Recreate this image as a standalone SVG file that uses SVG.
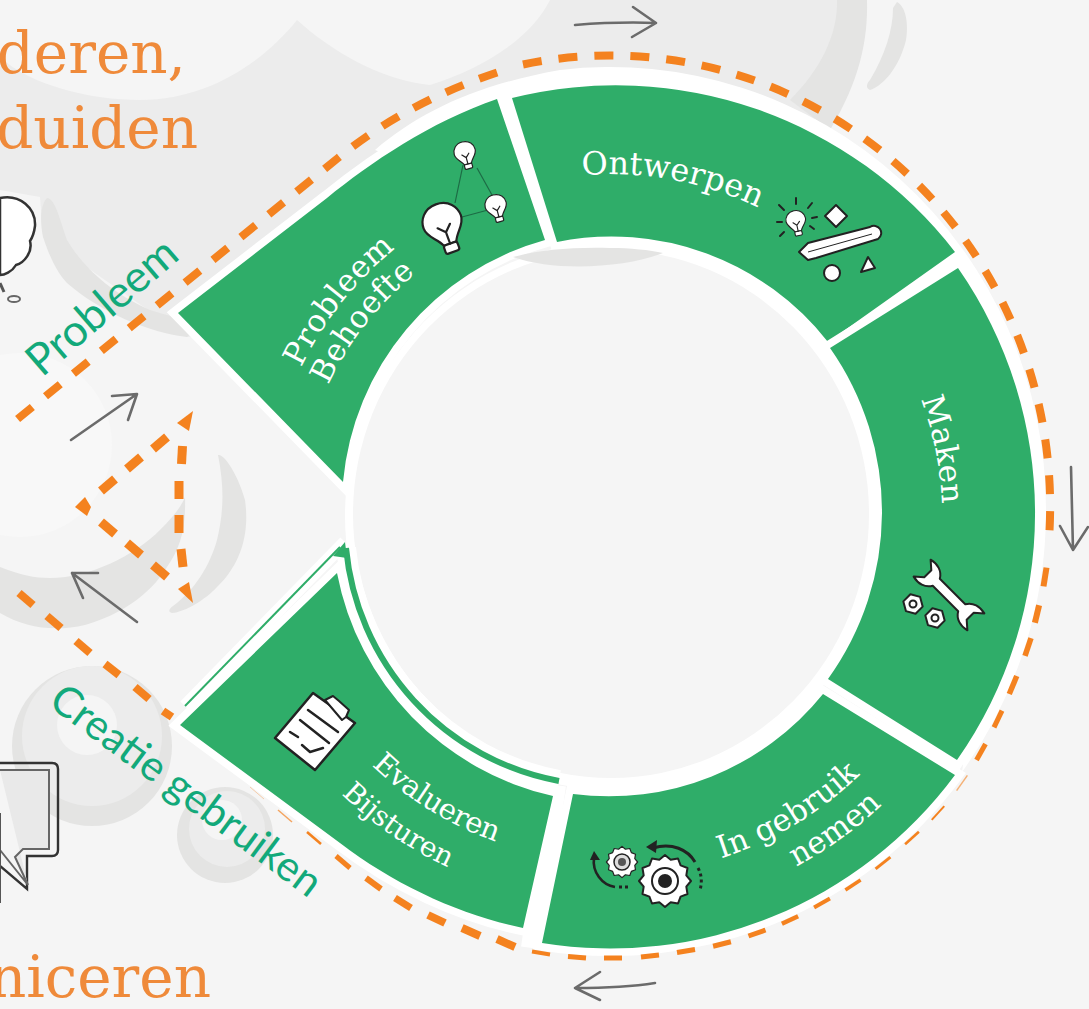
<svg xmlns="http://www.w3.org/2000/svg" xmlns:xlink="http://www.w3.org/1999/xlink" width="1089" height="1009" viewBox="0 0 1089 1009">
<style>
.seg{fill:#2fad69;stroke:#fff;stroke-width:15;stroke-linejoin:miter;stroke-miterlimit:12;paint-order:stroke}
.lbl{font-family:"DejaVu Serif","Liberation Serif",serif;fill:#fff;font-size:31px}
.org{font-family:"DejaVu Serif","Liberation Serif",serif;fill:#ef8a3a;font-size:58px}
.grn{font-family:"Lato","Open Sans",sans-serif;fill:#12a97a;font-weight:400}
.dash{fill:none;stroke:#f4821f;stroke-width:8;stroke-dasharray:19 17}
.d{stroke:#f4821f;fill:none}
.arr{fill:none;stroke:#6b6b6b;stroke-width:2.6;stroke-linecap:round;stroke-linejoin:round}
.ic{fill:#fff;stroke:#222;stroke-width:2;stroke-linejoin:round;stroke-linecap:round}
.il{fill:none;stroke:#222;stroke-width:2;stroke-linecap:round;stroke-linejoin:round}
.b1{fill:#e4e4e3}.b2{fill:#ececec}.b3{fill:#f5f5f5}
</style>
<defs>
<g id="bulb"><path class="ic" d="M0,-19C-12,-19 -18,-10 -18,-2C-18,7 -9,11 -6,19L6,19C9,11 18,7 18,-2C18,-10 12,-19 0,-19Z"/><rect class="ic" x="-6.5" y="19" width="13" height="8" rx="2"/><path class="il" d="M-6,2L0,8L6,2M0,8V19"/></g>
<polygon id="gear" points="26,0 21.3,5.7 22.5,13 15.6,15.6 13,22.5 5.7,21.3 0,26 -5.7,21.3 -13,22.5 -15.6,15.6 -22.5,13 -21.3,5.7 -26,0 -21.3,-5.7 -22.5,-13 -15.6,-15.6 -13,-22.5 -5.7,-21.3 0,-26 5.7,-21.3 13,-22.5 15.6,-15.6 22.5,-13 21.3,-5.7"/>
<polygon id="nut" points="10,0 5,8.7 -5,8.7 -10,0 -5,-8.7 5,-8.7"/>
<path id="tOnt" d="M574,176A342,342 0 0 1 872,296"/>
<path id="tMak" d="M911,376A332,332 0 0 1 937,574"/>
<path id="tPro" d="M288,399A343,343 0 0 1 550,178"/>
<path id="tBeh" d="M318,410A311,311 0 0 1 556,210"/>
<path id="tGeb" d="M672.5,870.5A360,360 0 0 0 948,639"/>
<path id="tNem" d="M746,889A397,397 0 0 0 993,619"/>
<path id="tEva" d="M345.7,737.8A345,345 0 0 0 580,859.7"/>
<path id="tBij" d="M314,765A387,387 0 0 0 576,901.5"/>
</defs>
<rect width="1089" height="1009" fill="#f5f5f5"/>
<g id="background">
<path class="b2" d="M0,57C30,85 90,100 140,100C210,100 265,60 297,20C330,50 380,80 430,85C480,70 530,40 550,0L867,0L840,110L600,200L300,330L187,337L43,237L40,197L0,190Z"/>
<path class="b1" d="M837,0L867,0C868,40 860,80 830,130L790,100C820,70 838,35 837,0Z"/>
<path class="b1" d="M897,2C908,8 908,30 906,40C900,65 885,85 870,90C865,88 867,83 870,80C885,55 893,30 893,8Z"/>
<path class="b1" d="M47,198C55,198 60,220 67,240C80,262 105,290 150,310C170,316 185,320 200,325L187,337C150,333 100,312 67,283C55,270 48,252 43,237C40,222 40,205 47,198Z"/>
<circle cx="20" cy="445" r="92" fill="#f8f8f8"/>
<path class="b1" d="M0,567C20,575 35,578 50,578C90,578 135,555 160,530C175,515 182,505 185,497C186,530 180,548 167,567C150,595 120,615 85,625C55,632 25,628 0,613Z"/>
<path class="b1" d="M218,455C225,453 240,480 245,500C250,535 240,565 217,587C205,600 185,612 172,613C167,612 170,608 173,606C195,590 210,565 217,540C223,515 225,490 218,455Z"/>
<circle cx="92" cy="746" r="80" class="b1"/>
<circle cx="92" cy="736" r="70" class="b2"/>
<circle cx="87" cy="725" r="30" class="b3"/>
<circle cx="225" cy="835" r="48" class="b1"/>
<circle cx="227" cy="829" r="38" class="b2"/>
<circle cx="222" cy="820" r="20" class="b3"/>
<path d="M375,150C420,112 475,85 560,70A436,442 0 0 1 1046,510A436,442 0 0 1 962,772L1000,510L500,200Z" fill="#fff"/>
<path d="M555,785L532,948" stroke="#fff" stroke-width="22"/>
<ellipse cx="613" cy="516" rx="268" ry="274" fill="#fff"/>
<ellipse cx="611" cy="514" rx="258" ry="264" fill="#f5f5f5"/>
<path d="M0,198C20,194 36,208 35,226C34,234 32,238 30,241C33,252 24,263 16,265C12,272 4,275 0,275Z" fill="#fff" stroke="#333" stroke-width="2.5"/>
<path d="M0,283L4,292" fill="none" stroke="#555" stroke-width="3"/>
<ellipse cx="14" cy="299" rx="6" ry="3" fill="#f5f5f5" stroke="#666" stroke-width="2"/>
<path d="M0,763H52Q58,763 58,769V850Q58,856 52,856H27V889L0,866" fill="none" stroke="#333" stroke-width="2.4"/>
<path d="M0,770H49V849H23L15,857L28,885M0,850L28,885" fill="#e9e9e9" stroke="#666" stroke-width="2"/>
<path d="M0,813V903" stroke="#555" stroke-width="2"/>
<text class="org" x="186" y="73" text-anchor="end">deren,</text>
<text class="org" x="198" y="148" text-anchor="end">duiden</text>
<text class="org" x="211" y="997" text-anchor="end">niceren</text>
</g>
<g id="probleem">
<path class="seg" d="M178,313L327,198C370,163 430,122 497,99L545,240A277,277 0 0 0 343,482Z"/>
<text class="lbl" letter-spacing=".4"><textPath xlink:href="#tPro" href="#tPro" startOffset="34">Probleem</textPath></text>
<text class="lbl" letter-spacing=".3"><textPath xlink:href="#tBeh" href="#tBeh" startOffset="27">Behoefte</textPath></text>
<path d="M463,165L455,203M477,168L492,195M462,217L488,210" stroke="#1d6b45" stroke-width="1.2" fill="none"/>
<use href="#bulb" transform="translate(443,224) rotate(-20) scale(1.1)"/>
<use href="#bulb" transform="translate(465,153) rotate(-15) scale(.6)"/>
<use href="#bulb" transform="translate(496,206) rotate(-15) scale(.6)"/>
</g>
<g id="ontwerpen">
<path class="seg" d="M512,98A429,429 0 0 1 955,252L828,342A275,275 0 0 0 557,242Z"/>
<text class="lbl" style="font-size:32px"><textPath xlink:href="#tOnt" href="#tOnt" startOffset="8">Ontwerpen</textPath></text>
<use href="#bulb" transform="translate(796,221) rotate(-12) scale(.55)"/>
<path class="il" d="M784,210L779,205M796,204V198M808,208L812,203M782,222H777M812,218L817,217M784,232L780,236M810,226L814,229"/>
<path class="ic" d="M836,205L847,216L836,227L825,216Z"/>
<path class="ic" d="M799,252L808,243L870,227A7,7 0 0 1 878,239L816,258L808,260Z"/>
<path d="M808,252L872,234" stroke="#222" stroke-width="1" fill="none"/>
<circle class="ic" cx="832" cy="273" r="8"/>
<path class="ic" d="M868,257L861,272L875,268Z"/>
</g>
<g id="maken">
<path class="seg" d="M958,268A429,429 0 0 1 957,760L828,679A285,285 0 0 0 830,348Z"/>
<text class="lbl"><textPath xlink:href="#tMak" href="#tMak" startOffset="25">Maken</textPath></text>
<path class="ic" transform="translate(949,595) rotate(45)" d="M-18,-5H18C22,-12 30,-14 38,-12L30,-5V5L38,12C30,14 22,12 18,5H-18C-22,12 -30,14 -38,12L-30,5V-5L-38,-12C-30,-14 -22,-12 -18,-5Z"/>
<use href="#nut" class="ic" transform="translate(913,604) rotate(15)"/>
<circle class="ic" cx="913" cy="604" r="3.5"/>
<use href="#nut" class="ic" transform="translate(935,618) rotate(15)"/>
<circle class="ic" cx="935" cy="618" r="3.5"/>
</g>
<g id="ingebruik">
<path class="seg" d="M955,775A429,429 0 0 1 542,943L573,794A275,275 0 0 0 823,694Z"/>
<text class="lbl"><textPath xlink:href="#tGeb" href="#tGeb" startOffset="50">In gebruik</textPath></text>
<text class="lbl"><textPath xlink:href="#tNem" href="#tNem" startOffset="55">nemen</textPath></text>
<use href="#gear" class="ic" transform="translate(665,881)"/>
<circle cx="665" cy="881" r="13" fill="#fff" stroke="#222" stroke-width="2"/>
<circle cx="665" cy="881" r="7" fill="#222"/>
<use href="#gear" class="ic" transform="translate(622,862) scale(.6)"/>
<circle cx="622" cy="862" r="8" fill="#ddd" stroke="#222" stroke-width="1.5"/>
<circle cx="622" cy="862" r="4" fill="#555"/>
<path d="M653,848C672,842 688,850 695,862" fill="none" stroke="#222" stroke-width="3"/>
<path d="M646,847L657,840L656,853Z" fill="#222"/>
<path d="M698,868C702,875 702,883 700,890" fill="none" stroke="#222" stroke-width="3" stroke-dasharray="3 3"/>
<path d="M594,858C592,872 602,885 615,887" fill="none" stroke="#222" stroke-width="2.6"/>
<path d="M594,851L590,860L600,860Z" fill="#222"/>
<path d="M619,887H630" stroke="#222" stroke-width="3" stroke-dasharray="3 3"/>
</g>
<g id="evalueren">
<path d="M185,706L345,542" stroke="#fff" stroke-width="13" fill="none"/>
<path d="M346,548A262,262 0 0 0 559,780" stroke="#fff" stroke-width="20" fill="none"/>
<path d="M185,706L340,547" stroke="#2fad69" stroke-width="2" fill="none"/>
<path d="M345,542L347,558L333,556Z" fill="#2fad69"/>
<path d="M346,548A262,262 0 0 0 559,781" stroke="#2fad69" stroke-width="6" fill="none"/>
<path class="seg" d="M180,725L337,573A283,283 0 0 0 553,796L523,928C460,915 395,885 340,843Z"/>
<text class="lbl" style="font-size:29px" letter-spacing="-.4"><textPath xlink:href="#tEva" href="#tEva" startOffset="38">Evalueren</textPath></text>
<text class="lbl" style="font-size:28px"><textPath xlink:href="#tBij" href="#tBij" startOffset="40">Bijsturen</textPath></text>
<path class="ic" d="M313,693L355,723L315,770L275,738Z" style="stroke-width:2.5"/>
<path class="ic" d="M325,700L333,696L339,701L349,710L346,717L342,720Z"/>
<path class="il" style="stroke-width:2.5" d="M308,710L338,732M300,720L329,743M290,732L298,737M302,745L310,752L323,748"/>
</g>
<path id="shade" class="b1" d="M513,257C540,250 570,247 610,248C630,248 650,250 663,253C625,268 555,272 513,257Z"/>
<g id="connectors">
<path class="dash" d="M17.6,419L338,158C385,120 440,90 511,68"/>
<path class="dash" d="M523,64.500A440,451 0 0 1 1049,539"/>
<g class="d" stroke-width="6">
<path d="M1046.5,567.6L1043.5,586.4"/><path d="M1039.1,605.2L1034.9,622.8"/>
<path stroke-width="5.5" d="M1031,638.1L1025,655.9"/><path stroke-width="5.5" d="M1016.75,676L1009.25,694"/>
<path stroke-width="5" d="M1002,710.6L994,727.4"/><path stroke-width="5" d="M985.5,744L976.5,760"/>
<path stroke-width="1.5" opacity=".6" d="M967.4,775.4L956.6,790.6"/><path stroke-width="2" d="M944.25,806.1L931.75,819.9"/>
<path stroke-width="2.5" d="M918.9,831.75L905.1,844.25"/><path stroke-width="3" d="M890.4,857.1L875.6,868.9"/>
<path stroke-width="3.5" d="M860.6,880L845.4,890"/><path stroke-width="4" d="M829.9,898.6L814.1,907.4"/>
<path stroke-width="4.5" d="M798.1,916.25L781.9,923.75"/><path stroke-width="5" d="M765.5,930L748.5,936"/>
<path stroke-width="5" d="M730.9,941.75L713.1,946.25"/><path stroke-width="5" d="M695,949.5L677,952.5"/>
<path stroke-width="5" d="M659,955L641,957"/><path stroke-width="5" d="M622,958L604,958"/>
<path stroke-width="5" d="M586,958L568,956.5"/><path stroke-width="4" d="M550,954.5L532,951.5"/>
<path stroke-width="8" d="M515,947L497,939"/><path stroke-width="8" d="M480,936L462,928"/>
<path stroke-width="8" d="M445,923L428,915"/><path stroke-width="7" d="M411,908L395,898"/>
<path stroke-width="6" d="M381,889L366,878"/><path stroke-width="5" d="M350,868L336,856"/>
<path stroke-width="2.5" d="M321,844L307,832"/><path stroke-width="1.5" opacity=".7" d="M292,822L278,810"/>
<path stroke-width="1" opacity=".35" d="M264,799L250,787"/>
</g>
<g class="d" stroke-width="8">
<path d="M172,717L163,711"/><path d="M149,699L135,687"/><path d="M119,675L105,664"/><path d="M90,653L76,641"/><path d="M61,628L47,616"/><path d="M33,605L19,593"/>
</g>
<g class="d" stroke-width="9">
<path d="M167,437L153,449"/><path d="M141,457L127,469"/><path d="M115,479L101,491"/>
<path d="M101,522L115,534"/><path d="M127,543L141,555"/><path d="M153,565L167,577"/>
<path d="M182.500,446L181.500,464"/><path d="M179,481V499"/><path d="M179,515V533"/><path d="M181,549L183,567"/>
</g>
<g fill="#f4821f">
<path d="M193,411L177,423L189,431Z"/><path d="M193,603L178,589L189,582Z"/><path d="M75,507L85,497L91,507L87,516Z"/>
</g>
<path class="arr" d="M71,440L137,394M112,396L137,394L128,420"/>
<path class="arr" d="M137,622L72,573M98,573L72,573L83,598"/>
<path class="arr" d="M575,25C600,23 630,22 656,23M633,7L656,23L632,37"/>
<path class="arr" d="M1071,467L1073,550M1060,526L1073,550L1088,527"/>
<path class="arr" d="M655,983C630,987 600,988 575,988M600,972L575,988L600,1000"/>
<text class="grn" font-size="44" transform="translate(42,378) rotate(-40.8)">Probleem</text>
<text class="grn" font-size="42" transform="translate(47,705) rotate(36.5)">Creatie gebruiken</text>
</g>
</svg>
